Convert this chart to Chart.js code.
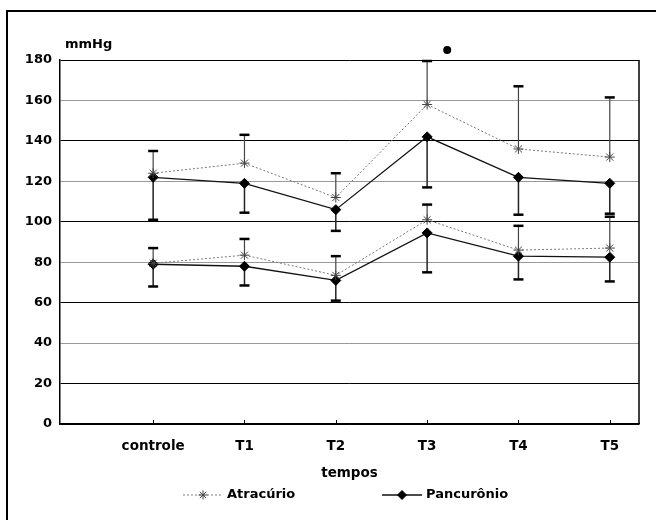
<!DOCTYPE html>
<html>
<head>
<meta charset="utf-8">
<script src="https://cdn.jsdelivr.net/npm/chart.js@4.4.1/dist/chart.umd.min.js"></script>
<style>
  html, body { margin: 0; padding: 0; background: #fff; overflow: hidden; }
  #wrap { position: relative; width: 656px; height: 520px; overflow: hidden; }
  #frame { position: absolute; left: 6px; top: 10px; width: 700px; height: 600px; border: 2px solid #000; }
  #pressureChart { position: absolute; left: 0; top: 0; }
</style>
</head>
<body>
<div id="wrap">
  <div id="frame"></div>
  <canvas id="pressureChart" width="656" height="520"></canvas>
</div>
<script>
// categories and tick labels
const categories = ["controle", "T1", "T2", "T3", "T4", "T5"];
const yTicks = [0, 20, 40, 60, 80, 100, 120, 140, 160, 180];

// systolic (upper pair) - mean and end of the error bar
const atracurioSys = [124, 129, 112, 158, 136, 132];
const atracurioSysUpper = [135, 143, 124, 179.5, 167, 161.5];
const pancuronioSys = [122, 119, 106, 142, 122, 119];
const pancuronioSysLower = [101, 104.5, 95.5, 117, 103.5, 104];

// diastolic (lower pair)
const atracurioDia = [79.5, 83.5, 73.5, 101, 86, 87];
const atracurioDiaUpper = [87, 91.5, 83, 108.5, 98, 102.5];
const pancuronioDia = [79, 78, 71, 94.5, 83, 82.5];
const pancuronioDiaLower = [68, 68.5, 61, 75, 71.5, 70.5];

// significance mark above T3
const significance = [{ x: 3.22, y: 185 }];

const FONT = "DejaVu Sans";
const toPoints = arr => arr.map((v, i) => ({ x: i, y: v }));

const atracurioStyle = {
  borderColor: "#7a7a7a",
  borderWidth: 1,
  borderDash: [2, 2],
  pointStyle: "star",
  pointRadius: 5,
  pointBorderColor: "#444",
  pointBorderWidth: 1,
  pointBackgroundColor: "rgba(0,0,0,0)",
  errorColor: "#444",
  errorWidth: 1.2
};
const pancuronioStyle = {
  borderColor: "#111",
  borderWidth: 1.3,
  pointStyle: "rectRot",
  pointRadius: 5,
  pointBorderColor: "#000",
  pointBorderWidth: 1,
  pointBackgroundColor: "#000",
  errorColor: "#222",
  errorWidth: 1.5
};

// error bars: vertical line from mean to the end value, with a cap
const errorBarPlugin = {
  id: "errorBars",
  beforeDatasetsDraw(chart) {
    const { ctx, scales: { x, y } } = chart;
    chart.data.datasets.forEach(ds => {
      if (!ds.errorEnds) return;
      ctx.save();
      ds.data.forEach((p, i) => {
        const px = x.getPixelForValue(p.x);
        const y0 = y.getPixelForValue(p.y);
        const y1 = y.getPixelForValue(ds.errorEnds[i]);
        ctx.strokeStyle = ds.errorColor;
        ctx.lineWidth = ds.errorWidth;
        ctx.beginPath();
        ctx.moveTo(px, y0);
        ctx.lineTo(px, y1);
        ctx.stroke();
        ctx.strokeStyle = "#000";
        ctx.lineWidth = 2.5;
        ctx.beginPath();
        ctx.moveTo(px - 5, y1);
        ctx.lineTo(px + 5, y1);
        ctx.stroke();
      });
      ctx.restore();
    });
  }
};

// right border, inner x ticks, unit label, significance dot and the legend
const decorPlugin = {
  id: "decor",
  afterDraw(chart) {
    const { ctx, chartArea: a, scales: { x, y } } = chart;
    ctx.save();
    ctx.strokeStyle = "#000";
    ctx.lineWidth = 1.5;
    ctx.beginPath();
    ctx.moveTo(a.right, a.top);
    ctx.lineTo(a.right, a.bottom);
    ctx.stroke();

    ctx.lineWidth = 1;
    categories.forEach((c, i) => {
      const px = Math.round(x.getPixelForValue(i)) + 0.5;
      ctx.beginPath();
      ctx.moveTo(px, a.bottom);
      ctx.lineTo(px, a.bottom - 4);
      ctx.stroke();
    });

    ctx.fillStyle = "#000";
    significance.forEach(p => {
      ctx.beginPath();
      ctx.arc(x.getPixelForValue(p.x), y.getPixelForValue(p.y), 4, 0, Math.PI * 2);
      ctx.fill();
    });

    ctx.font = "bold 13px '" + FONT + "'";
    ctx.textBaseline = "alphabetic";
    ctx.textAlign = "left";
    ctx.fillText("mmHg", a.left + 5, a.top - 12);

    // legend
    const items = [
      { ds: chart.data.datasets[0], x0: 183 },
      { ds: chart.data.datasets[1], x0: 382 }
    ];
    const ly = 495;
    items.forEach(it => {
      const ds = it.ds;
      ctx.save();
      ctx.strokeStyle = ds.borderColor;
      ctx.lineWidth = ds.borderWidth;
      ctx.setLineDash(ds.borderDash || []);
      ctx.beginPath();
      ctx.moveTo(it.x0, ly);
      ctx.lineTo(it.x0 + 40, ly);
      ctx.stroke();
      ctx.restore();
      ctx.save();
      ctx.strokeStyle = ds.pointBorderColor;
      ctx.fillStyle = ds.pointBackgroundColor;
      ctx.lineWidth = ds.pointBorderWidth;
      Chart.helpers.drawPoint(ctx, { pointStyle: ds.pointStyle, radius: 4.5, rotation: 0, borderWidth: ds.pointBorderWidth }, it.x0 + 20, ly);
      ctx.restore();
      ctx.fillStyle = "#000";
      ctx.textBaseline = "middle";
      ctx.fillText(ds.label, it.x0 + 44, ly);
    });
    ctx.restore();
  }
};

new Chart(document.getElementById("pressureChart"), {
  type: "line",
  data: {
    datasets: [
      Object.assign({ label: "Atracúrio", data: toPoints(atracurioSys), errorEnds: atracurioSysUpper }, atracurioStyle),
      Object.assign({ label: "Pancurônio", data: toPoints(pancuronioSys), errorEnds: pancuronioSysLower }, pancuronioStyle),
      Object.assign({ label: "Atracúrio diast.", data: toPoints(atracurioDia), errorEnds: atracurioDiaUpper }, atracurioStyle),
      Object.assign({ label: "Pancurônio diast.", data: toPoints(pancuronioDia), errorEnds: pancuronioDiaLower }, pancuronioStyle)
    ]
  },
  options: {
    responsive: false,
    animation: false,
    events: [],
    layout: { padding: { left: 10, right: 17, top: 60, bottom: 0 } },
    plugins: {
      legend: { display: false },
      tooltip: { enabled: false }
    },
    scales: {
      x: {
        type: "linear",
        min: -1.02,
        max: 5.32,
        afterBuildTicks: s => { s.ticks = categories.map((c, i) => ({ value: i })); },
        afterFit: s => { s.height = 96; },
        ticks: {
          callback: v => categories[v],
          autoSkip: false,
          maxRotation: 0,
          color: "#000",
          padding: 14,
          font: { family: FONT, size: 13.5, weight: "bold" }
        },
        grid: { display: false, drawTicks: false },
        border: { color: "#000", width: 1.5 },
        title: {
          display: true,
          text: "tempos",
          color: "#000",
          padding: { top: 0, bottom: 38 },
          font: { family: FONT, size: 13.5, weight: "bold" }
        }
      },
      y: {
        min: 0,
        max: 180,
        afterBuildTicks: s => { s.ticks = yTicks.map(v => ({ value: v })); },
        afterFit: s => { s.width = 50; },
        ticks: {
          color: "#000",
          padding: 8,
          font: { family: FONT, size: 13, weight: "bold" }
        },
        grid: {
          drawTicks: false,
          lineWidth: 1,
          color: c => (c.tick && (c.tick.value === 0 || c.tick.value % 40 === 20)) ? "#000" : "#999"
        },
        border: { color: "#000", width: 1.5 }
      }
    }
  },
  plugins: [errorBarPlugin, decorPlugin]
});
</script>
</body>
</html>
